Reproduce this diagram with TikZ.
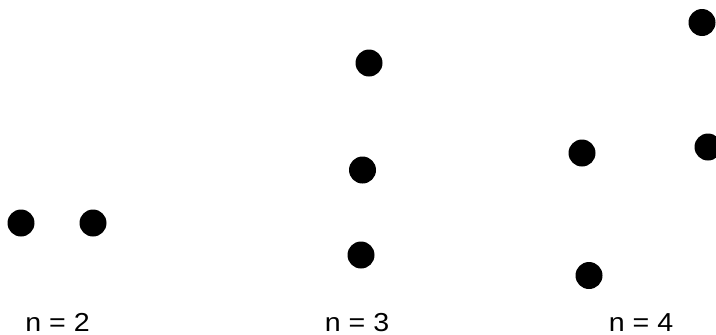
\documentclass[tikz,border=0pt]{standalone}
\usepackage{fontspec}
\setmainfont{Liberation Sans}
\begin{document}
\begin{tikzpicture}[x=1pt,y=-1pt,
  dot/.style={circle,fill=black,inner sep=0pt,minimum size=27pt},
  lbl/.style={font=\fontsize{26}{30}\selectfont,inner sep=0pt,anchor=base,xscale=1.1}]
\useasboundingbox (0,0) rectangle (716,335);
\node[dot] (a1) at (21,223) {};
\node[dot] (a2) at (93,223) {};
\node[dot] (b1) at (369,63) {};
\node[dot] (b2) at (362.5,170) {};
\node[dot] (b3) at (361,255) {};
\node[dot] (c1) at (702,22.5) {};
\node[dot] (c2) at (582,153) {};
\node[dot] (c3) at (708,147) {};
\node[dot] (c4) at (589,275.5) {};
\node[lbl] (l2) at (57.5,331) {n = 2};
\node[lbl] (l3) at (357,331) {n = 3};
\node[lbl] (l4) at (641,331) {n = 4};
\end{tikzpicture}
\end{document}
